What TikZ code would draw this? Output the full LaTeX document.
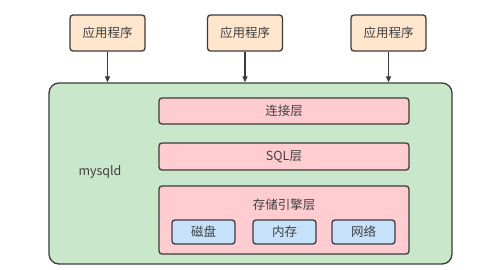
\documentclass[tikz,border=0pt]{standalone}
\usepackage{fontspec}
\setmainfont{Noto Sans CJK SC}
\usepackage{tikz}
\usetikzlibrary{arrows.meta,positioning,calc}
\definecolor{appyellow}{HTML}{FFE6CC}
\definecolor{servergreen}{HTML}{C9E7CA}
\definecolor{layerpink}{HTML}{FFCCD1}
\definecolor{partblue}{HTML}{C6E2FA}
\definecolor{edgegray}{HTML}{3B3B3B}

\begin{document}
\begin{tikzpicture}[
    x=1pt, y=-1pt,
    font=\fontsize{12.5pt}{14pt}\selectfont,
    >={Triangle[length=6pt,width=5pt]},
    box/.style={draw=edgegray, line width=1.3pt, rounded corners=3pt, inner sep=0pt, text=black!75},
    app/.style={box, fill=appyellow, minimum width=75pt, minimum height=36pt},
    layer/.style={box, fill=layerpink, minimum width=250pt},
    part/.style={box, fill=partblue, minimum width=63pt, minimum height=24pt},
    flow/.style={->, line width=1.2pt, draw=edgegray}
]
\useasboundingbox (0,0) rectangle (498,269);

% client programs
\node[app] (app1) at (107.5,33) {应用程序};
\node[app] (app2) at (245,33) {应用程序};
\node[app] (app3) at (388.5,33) {应用程序};

% server
\node[box, fill=servergreen, rounded corners=10pt, minimum width=403pt, minimum height=181pt] (server) at (250.5,173.5) {};
\node[text=black!75] (name) at (100,172) {mysqld};

\node[layer, minimum height=26pt] (conn) at (284,111) {连接层};
\node[layer, minimum height=27pt] (sql) at (284,156.5) {SQL层};
\node[layer, minimum height=68pt] (engine) at (284,220) {};
\node[text=black!75] (enginename) at (284,205) {存储引擎层};

\node[part] (disk) at (203.5,232) {磁盘};
\node[part] (mem) at (284.5,232) {内存};
\node[part] (net) at (363.5,232) {网络};

\foreach \a in {app1,app2,app3}
  \draw[flow] (\a.south) -- (\a.south |- server.north);
\end{tikzpicture}
\end{document}
